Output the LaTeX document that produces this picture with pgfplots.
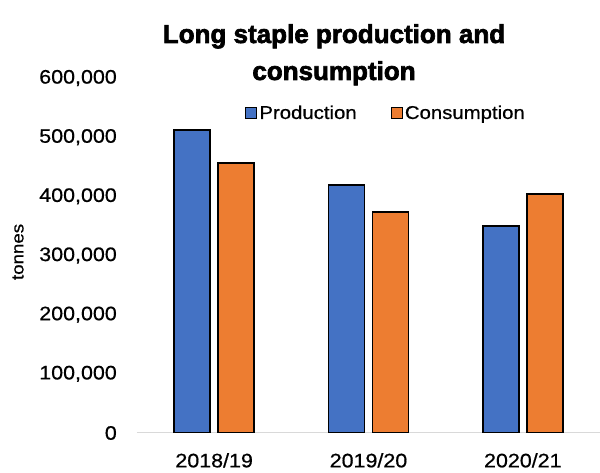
\documentclass[border=0pt]{standalone}
\usepackage{fontspec}
\setmainfont{Liberation Sans}[FakeStretch=1.1, FakeBold=0.6]
\newfontfamily\titlefont{Liberation Sans Bold}[FakeBold=2.5]
\usepackage{pgfplots}
\pgfplotsset{compat=1.18}
\definecolor{cblue}{HTML}{4472C4}
\definecolor{corange}{HTML}{ED7D31}
\begin{document}
\begin{tikzpicture}[x=1pt,y=1pt]
\useasboundingbox (0,0) rectangle (600,473);
\begin{axis}[
  at={(137pt,40pt)}, anchor=south west,
  scale only axis, width=463pt, height=355pt,
  ymin=0, ymax=600000, xmin=-0.5, xmax=2.5,
  ytick={0,100000,200000,300000,400000,500000,600000},
  yticklabels={0,{100,000},{200,000},{300,000},{400,000},{500,000},{600,000}},
  xtick={0,1,2}, xticklabels={2018/19,2019/20,2020/21},
  axis x line*=bottom, axis y line*=left,
  y axis line style={draw=none},
  x axis line style={draw=black!15, line width=1pt, -},
  major tick length=0pt,
  ybar=8pt, bar width=36pt,
  scaled y ticks=false,
  yticklabel style={anchor=east, inner sep=0pt, xshift=-20pt, font=\fontsize{19.5}{22}\selectfont},
  xticklabel style={anchor=north, inner sep=0pt, yshift=-20pt, font=\fontsize{19.5}{22}\selectfont},
  ylabel={tonnes},
  every axis y label/.style={at={(axis description cs:-0.257,0.51)}, rotate=90, anchor=center, font=\fontsize{17}{20}\selectfont},
  legend columns=2,
  legend style={at={(rel axis cs:0.2333,0.9014)}, anchor=west, draw=none, fill=none, inner sep=0pt,
    font=\fontsize{18.5}{21}\selectfont, nodes={inner sep=2pt},
    /tikz/every even column/.append style={column sep=32pt}},
]
\addplot[fill=cblue, draw=black, line width=1.6pt,
  legend image code/.code={\draw[fill=cblue, draw=black, line width=1.2pt] (0pt,-5.5pt) rectangle (11pt,5.5pt);}]
  coordinates {(0,512000) (1,419000) (2,350000)};
\addlegendentry{Production}
\addplot[fill=corange, draw=black, line width=1.6pt,
  legend image code/.code={\draw[fill=corange, draw=black, line width=1.2pt] (0pt,-5.5pt) rectangle (11pt,5.5pt);}]
  coordinates {(0,456000) (1,374000) (2,404000)};
\addlegendentry{Consumption}
\end{axis}
\node[anchor=base, font=\titlefont\fontsize{26}{30}\selectfont] at (334,430) {Long staple production and};
\node[anchor=base, font=\titlefont\fontsize{26}{30}\selectfont] at (334,393) {consumption};
\end{tikzpicture}
\end{document}
